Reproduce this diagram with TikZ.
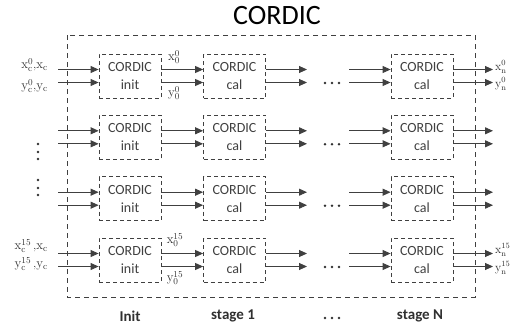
\documentclass[tikz,border=0pt]{standalone}
\usepackage{fontspec}
\newfontfamily\carl{Carlito}
\usetikzlibrary{arrows.meta}
\definecolor{ln}{HTML}{404040}
\definecolor{tx}{HTML}{303030}
\tikzset{
  blk/.style={draw=ln, dash pattern=on 4pt off 3pt, line width=0.8pt,
    minimum width=62pt, minimum height=44pt, inner sep=0pt, align=center,
    font=\carl\fontsize{14}{18}\selectfont, text=ln},
  outer/.style={draw=ln, dash pattern=on 5pt off 4pt, line width=0.8pt},
  arr/.style={draw=ln, line width=0.9pt, -{Triangle[length=8pt,width=7pt]}},
  lbl/.style={font=\fontsize{13}{15}\selectfont, text=tx, inner sep=0pt},
  rlbl/.style={font=\fontsize{12}{14}\selectfont, text=tx, inner sep=0pt, anchor=west},
  stg/.style={font=\carl\fontsize{15}{18}\selectfont\bfseries, text=tx, inner sep=0pt},
  ttl/.style={font=\carl\fontsize{28}{32}\selectfont, text=black, inner sep=0pt},
  dotc/.style={fill=tx, draw=none}
}
\begin{document}
\begin{tikzpicture}[x=1pt,y=-1pt]
\useasboundingbox (0,0) rectangle (516,327);
\node[ttl] (title) at (277,16) {CORDIC};
\draw[outer] (67,35) rectangle (475,297);
\foreach \r/\yy in {1/76,2/137.3,3/198.7,4/260} {
  \node[blk] (i\r) at (130,\yy) {CORDIC\\init};
  \node[blk] (a\r) at (234.5,\yy) {CORDIC\\cal};
  \node[blk] (n\r) at (422,\yy) {CORDIC\\cal};
  \coordinate (s\r) at (58,\yy);
  \coordinate (e\r) at (307,\yy);
  \coordinate (m\r) at (349,\yy);
  \coordinate (o\r) at (493,\yy);
  \foreach \d in {6.5,-6.5} {
    \draw[arr] ([yshift=\d pt]s\r) -- ([yshift=\d pt]i\r.west);
    \draw[arr] ([yshift=\d pt]i\r.east) -- ([yshift=\d pt]a\r.west);
    \draw[arr] ([yshift=\d pt]a\r.east) -- ([yshift=\d pt]e\r);
    \draw[arr] ([yshift=\d pt]m\r) -- ([yshift=\d pt]n\r.west);
    \draw[arr] ([yshift=\d pt]n\r.east) -- ([yshift=\d pt]o\r);
  }
  \foreach \xx in {325,332,339} \fill[dotc] (\xx,\yy+7) circle (1.4);
}
% left vertical dots
\foreach \yy in {144,152,159,180,188,195} \fill[dotc] (38,\yy) circle (1.4);
% bottom dots
\foreach \xx in {325,332,339} \fill[dotc] (\xx,318) circle (1.4);
% labels row 1
\node[lbl, anchor=east] (lx1) at (48,65) {$\mathrm{x}_{\mathrm{c}}^{0}{,}\mathrm{x}_{\mathrm{c}}$};
\node[lbl, anchor=east] (ly1) at (48,86) {$\mathrm{y}_{\mathrm{c}}^{0}{,}\mathrm{y}_{\mathrm{c}}$};
\node[lbl] (x01) at (174,57) {$\mathrm{x}_{0}^{0}$};
\node[lbl] (y01) at (174,93) {$\mathrm{y}_{0}^{0}$};
\node[rlbl] (xn1) at (495,67) {$\mathrm{x}_{\mathrm{n}}^{0}$};
\node[rlbl] (yn1) at (495,84) {$\mathrm{y}_{\mathrm{n}}^{0}$};
% labels row 4
\node[lbl, anchor=east] (lx4) at (48,246) {$\mathrm{x}_{\mathrm{c}}^{15}\,{,}\mathrm{x}_{\mathrm{c}}$};
\node[lbl, anchor=east] (ly4) at (48,264) {$\mathrm{y}_{\mathrm{c}}^{15}\,{,}\mathrm{y}_{\mathrm{c}}$};
\node[lbl] (x04) at (175,240) {$\mathrm{x}_{0}^{15}$};
\node[lbl] (y04) at (175,278) {$\mathrm{y}_{0}^{15}$};
\node[rlbl] (xn4) at (495,250) {$\mathrm{x}_{\mathrm{n}}^{15}$};
\node[rlbl] (yn4) at (495,268) {$\mathrm{y}_{\mathrm{n}}^{15}$};
% stage labels
\node[stg] (sInit) at (130,316) {Init};
\node[stg] (sOne) at (233,316) {stage 1};
\node[stg] (sN) at (420,316) {stage N};
\end{tikzpicture}
\end{document}
